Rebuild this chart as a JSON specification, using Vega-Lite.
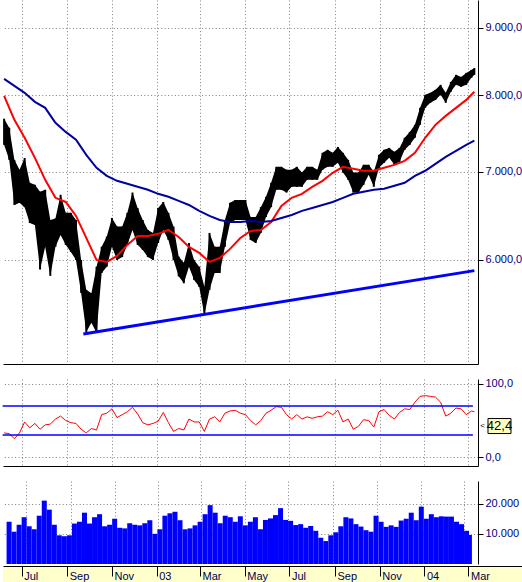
{
  "$schema": "https://vega.github.io/schema/vega-lite/v6.json",
  "padding": 0,
  "background": "white",
  "bounds": "flush",
  "spacing": 0,
  "config": {
    "view": {"stroke": null},
    "axis": {"domainColor": "#000000", "tickColor": "#000000", "labelColor": "#000080", "labelFont": "Liberation Sans", "labelFontSize": 11, "gridColor": "#808080", "gridDash": [1, 2.4], "gridOpacity": 1, "gridWidth": 1, "tickSize": 5, "labelPadding": 2, "domainWidth": 1, "tickWidth": 1}
  },
  "datasets": {
    "w": [
      {"d": "2002-06-07", "hi": 7680, "lo": 7337, "rsi": 33, "vol": 14000},
      {"d": "2002-06-14", "hi": 7560, "lo": 7147, "rsi": 32, "vol": 10700},
      {"d": "2002-06-21", "hi": 7147, "lo": 6605, "rsi": 25, "vol": 13000},
      {"d": "2002-06-28", "hi": 7024, "lo": 6630, "rsi": 33, "vol": 15500},
      {"d": "2002-07-05", "hi": 7170, "lo": 6580, "rsi": 48, "vol": 12500},
      {"d": "2002-07-12", "hi": 6866, "lo": 6400, "rsi": 40, "vol": 11500},
      {"d": "2002-07-19", "hi": 6842, "lo": 6379, "rsi": 46, "vol": 16000},
      {"d": "2002-07-26", "hi": 6760, "lo": 5900, "rsi": 38, "vol": 21000},
      {"d": "2002-08-02", "hi": 6783, "lo": 6140, "rsi": 44, "vol": 18000},
      {"d": "2002-08-09", "hi": 6434, "lo": 5835, "rsi": 45, "vol": 13000},
      {"d": "2002-08-16", "hi": 6450, "lo": 6140, "rsi": 52, "vol": 9500},
      {"d": "2002-08-23", "hi": 6724, "lo": 6268, "rsi": 56, "vol": 9200},
      {"d": "2002-08-30", "hi": 6515, "lo": 6160, "rsi": 50, "vol": 9500},
      {"d": "2002-09-06", "hi": 6515, "lo": 6085, "rsi": 47, "vol": 13400},
      {"d": "2002-09-13", "hi": 6434, "lo": 6000, "rsi": 46, "vol": 14000},
      {"d": "2002-09-20", "hi": 6000, "lo": 5664, "rsi": 38, "vol": 17000},
      {"d": "2002-09-27", "hi": 5694, "lo": 5290, "rsi": 33, "vol": 13400},
      {"d": "2002-10-04", "hi": 5660, "lo": 5375, "rsi": 39, "vol": 15500},
      {"d": "2002-10-11", "hi": 5930, "lo": 5282, "rsi": 37, "vol": 16500},
      {"d": "2002-10-18", "hi": 6140, "lo": 5865, "rsi": 58, "vol": 12500},
      {"d": "2002-10-25", "hi": 6250, "lo": 5930, "rsi": 60, "vol": 13000},
      {"d": "2002-11-01", "hi": 6457, "lo": 6140, "rsi": 66, "vol": 15000},
      {"d": "2002-11-08", "hi": 6360, "lo": 6000, "rsi": 54, "vol": 12000},
      {"d": "2002-11-15", "hi": 6360, "lo": 6030, "rsi": 58, "vol": 11800},
      {"d": "2002-11-22", "hi": 6515, "lo": 6160, "rsi": 62, "vol": 13500},
      {"d": "2002-11-29", "hi": 6750, "lo": 6323, "rsi": 68, "vol": 13000},
      {"d": "2002-12-06", "hi": 6570, "lo": 6160, "rsi": 59, "vol": 12800},
      {"d": "2002-12-13", "hi": 6434, "lo": 6106, "rsi": 47, "vol": 13500},
      {"d": "2002-12-20", "hi": 6323, "lo": 6030, "rsi": 44, "vol": 14500},
      {"d": "2002-12-27", "hi": 6290, "lo": 6000, "rsi": 46, "vol": 10000},
      {"d": "2003-01-03", "hi": 6570, "lo": 6180, "rsi": 49, "vol": 11500},
      {"d": "2003-01-10", "hi": 6640, "lo": 6323, "rsi": 61, "vol": 16000},
      {"d": "2003-01-17", "hi": 6515, "lo": 6214, "rsi": 47, "vol": 16800},
      {"d": "2003-01-24", "hi": 6360, "lo": 6000, "rsi": 35, "vol": 17300},
      {"d": "2003-01-31", "hi": 6035, "lo": 5830, "rsi": 39, "vol": 14500},
      {"d": "2003-02-07", "hi": 5970, "lo": 5760, "rsi": 37, "vol": 11500},
      {"d": "2003-02-14", "hi": 6180, "lo": 5930, "rsi": 52, "vol": 11800},
      {"d": "2003-02-21", "hi": 6000, "lo": 5794, "rsi": 48, "vol": 12800},
      {"d": "2003-02-28", "hi": 5930, "lo": 5724, "rsi": 48, "vol": 14000},
      {"d": "2003-03-07", "hi": 5724, "lo": 5450, "rsi": 35, "vol": 16500},
      {"d": "2003-03-14", "hi": 6290, "lo": 5694, "rsi": 52, "vol": 19500},
      {"d": "2003-03-21", "hi": 6140, "lo": 5865, "rsi": 55, "vol": 17000},
      {"d": "2003-03-28", "hi": 6140, "lo": 5865, "rsi": 48, "vol": 13500},
      {"d": "2003-04-04", "hi": 6434, "lo": 6140, "rsi": 60, "vol": 16000},
      {"d": "2003-04-11", "hi": 6630, "lo": 6400, "rsi": 63, "vol": 15500},
      {"d": "2003-04-18", "hi": 6663, "lo": 6434, "rsi": 64, "vol": 14000},
      {"d": "2003-04-25", "hi": 6663, "lo": 6434, "rsi": 60, "vol": 15800},
      {"d": "2003-05-02", "hi": 6663, "lo": 6434, "rsi": 58, "vol": 12800},
      {"d": "2003-05-09", "hi": 6468, "lo": 6214, "rsi": 50, "vol": 14000},
      {"d": "2003-05-16", "hi": 6468, "lo": 6180, "rsi": 44, "vol": 15500},
      {"d": "2003-05-23", "hi": 6580, "lo": 6290, "rsi": 50, "vol": 11500},
      {"d": "2003-05-30", "hi": 6700, "lo": 6468, "rsi": 60, "vol": 14600},
      {"d": "2003-06-06", "hi": 6866, "lo": 6580, "rsi": 64, "vol": 15100},
      {"d": "2003-06-13", "hi": 7060, "lo": 6783, "rsi": 69, "vol": 16200},
      {"d": "2003-06-20", "hi": 7060, "lo": 6783, "rsi": 68, "vol": 18500},
      {"d": "2003-06-27", "hi": 7024, "lo": 6750, "rsi": 58, "vol": 14600},
      {"d": "2003-07-04", "hi": 7024, "lo": 6818, "rsi": 52, "vol": 14300},
      {"d": "2003-07-11", "hi": 7060, "lo": 6818, "rsi": 58, "vol": 12900},
      {"d": "2003-07-18", "hi": 6990, "lo": 6818, "rsi": 52, "vol": 13200},
      {"d": "2003-07-25", "hi": 7060, "lo": 6902, "rsi": 55, "vol": 12000},
      {"d": "2003-08-01", "hi": 7060, "lo": 6902, "rsi": 53, "vol": 12600},
      {"d": "2003-08-08", "hi": 7024, "lo": 6902, "rsi": 55, "vol": 11000},
      {"d": "2003-08-15", "hi": 7235, "lo": 7024, "rsi": 56, "vol": 8700},
      {"d": "2003-08-22", "hi": 7273, "lo": 7060, "rsi": 62, "vol": 7600},
      {"d": "2003-08-29", "hi": 7235, "lo": 7060, "rsi": 58, "vol": 9500},
      {"d": "2003-09-05", "hi": 7310, "lo": 7110, "rsi": 64, "vol": 10500},
      {"d": "2003-09-12", "hi": 7235, "lo": 6990, "rsi": 48, "vol": 12500},
      {"d": "2003-09-19", "hi": 7147, "lo": 6902, "rsi": 52, "vol": 15500},
      {"d": "2003-09-26", "hi": 6990, "lo": 6750, "rsi": 38, "vol": 15100},
      {"d": "2003-10-03", "hi": 6990, "lo": 6750, "rsi": 42, "vol": 13200},
      {"d": "2003-10-10", "hi": 7085, "lo": 6842, "rsi": 51, "vol": 12400},
      {"d": "2003-10-17", "hi": 7085, "lo": 6963, "rsi": 50, "vol": 11200},
      {"d": "2003-10-24", "hi": 7000, "lo": 6818, "rsi": 41, "vol": 10700},
      {"d": "2003-10-31", "hi": 7210, "lo": 7048, "rsi": 62, "vol": 16000},
      {"d": "2003-11-07", "hi": 7273, "lo": 7110, "rsi": 65, "vol": 14000},
      {"d": "2003-11-14", "hi": 7298, "lo": 7172, "rsi": 57, "vol": 12300},
      {"d": "2003-11-21", "hi": 7248, "lo": 7085, "rsi": 52, "vol": 12800},
      {"d": "2003-11-28", "hi": 7298, "lo": 7122, "rsi": 61, "vol": 12300},
      {"d": "2003-12-05", "hi": 7428, "lo": 7273, "rsi": 66, "vol": 14400},
      {"d": "2003-12-12", "hi": 7505, "lo": 7337, "rsi": 65, "vol": 15000},
      {"d": "2003-12-19", "hi": 7598, "lo": 7428, "rsi": 75, "vol": 17000},
      {"d": "2003-12-26", "hi": 7827, "lo": 7598, "rsi": 83, "vol": 14500},
      {"d": "2004-01-02", "hi": 8007, "lo": 7827, "rsi": 84, "vol": 19000},
      {"d": "2004-01-09", "hi": 8035, "lo": 7896, "rsi": 83, "vol": 15000},
      {"d": "2004-01-16", "hi": 8077, "lo": 7937, "rsi": 82, "vol": 16500},
      {"d": "2004-01-23", "hi": 8148, "lo": 8007, "rsi": 75, "vol": 15500},
      {"d": "2004-01-30", "hi": 8035, "lo": 7896, "rsi": 56, "vol": 15800},
      {"d": "2004-02-06", "hi": 8190, "lo": 8050, "rsi": 60, "vol": 15700},
      {"d": "2004-02-13", "hi": 8292, "lo": 8148, "rsi": 67, "vol": 15700},
      {"d": "2004-02-20", "hi": 8262, "lo": 8120, "rsi": 66, "vol": 14000},
      {"d": "2004-02-27", "hi": 8320, "lo": 8148, "rsi": 58, "vol": 13200},
      {"d": "2004-03-05", "hi": 8364, "lo": 8250, "rsi": 63, "vol": 11000},
      {"d": "2004-03-09", "hi": 8390, "lo": 8292, "rsi": 62, "vol": 9600}
    ],
    "ma": [
      {"d": "2002-06-07", "red": 7993, "blue": 8234},
      {"d": "2002-06-21", "red": 7665, "blue": 8134},
      {"d": "2002-07-05", "red": 7428, "blue": 8035},
      {"d": "2002-07-19", "red": 7172, "blue": 7910},
      {"d": "2002-08-02", "red": 6902, "blue": 7827},
      {"d": "2002-08-16", "red": 6688, "blue": 7625},
      {"d": "2002-08-30", "red": 6640, "blue": 7505},
      {"d": "2002-09-13", "red": 6480, "blue": 7402},
      {"d": "2002-09-27", "red": 6236, "blue": 7210},
      {"d": "2002-10-11", "red": 6000, "blue": 7048},
      {"d": "2002-10-25", "red": 5979, "blue": 6950},
      {"d": "2002-11-08", "red": 6042, "blue": 6890},
      {"d": "2002-11-22", "red": 6160, "blue": 6854},
      {"d": "2002-12-06", "red": 6257, "blue": 6818},
      {"d": "2002-12-20", "red": 6257, "blue": 6783},
      {"d": "2003-01-03", "red": 6280, "blue": 6735},
      {"d": "2003-01-17", "red": 6323, "blue": 6700},
      {"d": "2003-01-31", "red": 6246, "blue": 6653},
      {"d": "2003-02-14", "red": 6138, "blue": 6605},
      {"d": "2003-02-28", "red": 6074, "blue": 6537},
      {"d": "2003-03-14", "red": 5979, "blue": 6480},
      {"d": "2003-03-28", "red": 6021, "blue": 6434},
      {"d": "2003-04-11", "red": 6117, "blue": 6411},
      {"d": "2003-04-25", "red": 6235, "blue": 6411},
      {"d": "2003-05-09", "red": 6312, "blue": 6422},
      {"d": "2003-05-23", "red": 6323, "blue": 6411},
      {"d": "2003-06-06", "red": 6411, "blue": 6422},
      {"d": "2003-06-20", "red": 6594, "blue": 6457},
      {"d": "2003-07-04", "red": 6688, "blue": 6491},
      {"d": "2003-07-18", "red": 6735, "blue": 6537},
      {"d": "2003-08-01", "red": 6818, "blue": 6570},
      {"d": "2003-08-15", "red": 6890, "blue": 6605},
      {"d": "2003-08-29", "red": 6987, "blue": 6640},
      {"d": "2003-09-12", "red": 7060, "blue": 6688},
      {"d": "2003-09-26", "red": 7036, "blue": 6735},
      {"d": "2003-10-10", "red": 7012, "blue": 6759},
      {"d": "2003-10-24", "red": 7012, "blue": 6783},
      {"d": "2003-11-07", "red": 7048, "blue": 6795},
      {"d": "2003-11-21", "red": 7085, "blue": 6830},
      {"d": "2003-12-05", "red": 7135, "blue": 6866},
      {"d": "2003-12-19", "red": 7235, "blue": 6950},
      {"d": "2004-01-02", "red": 7428, "blue": 7012},
      {"d": "2004-01-16", "red": 7598, "blue": 7097},
      {"d": "2004-01-30", "red": 7718, "blue": 7185},
      {"d": "2004-02-13", "red": 7827, "blue": 7260},
      {"d": "2004-02-27", "red": 7937, "blue": 7337},
      {"d": "2004-03-09", "red": 8050, "blue": 7390}
    ],
    "tl": [
      {"d": "2002-09-23", "v": 5272},
      {"d": "2004-03-09", "v": 5889}
    ],
    "lv": [{"lvl": 70, "d0": "2002-06-05", "d1": "2004-03-07"}, {"lvl": 30, "d0": "2002-06-05", "d1": "2004-03-07"}],
    "lab": [{"v": 42.4, "t": "42,4"}]
  },
  "vconcat": [
    {
      "width": 475,
      "height": 364,
      "encoding": {
        "x": {"field": "d", "type": "temporal", "title": null,
          "scale": {"type": "utc", "nice": false, "domain": [{"year": 2002, "month": 6, "date": 5, "hours": 12, "utc": true}, {"year": 2004, "month": 3, "date": 14, "utc": true}]},
          "axis": {"title": null, "labels": false, "ticks": false, "domain": true, "grid": true,
            "values": [{"year": 2002, "month": 7, "date": 1, "utc": true}, {"year": 2002, "month": 9, "date": 1, "utc": true}, {"year": 2002, "month": 11, "date": 1, "utc": true}, {"year": 2003, "month": 1, "date": 1, "utc": true}, {"year": 2003, "month": 3, "date": 1, "utc": true}, {"year": 2003, "month": 5, "date": 1, "utc": true}, {"year": 2003, "month": 7, "date": 1, "utc": true}, {"year": 2003, "month": 9, "date": 1, "utc": true}, {"year": 2003, "month": 11, "date": 1, "utc": true}, {"year": 2004, "month": 1, "date": 1, "utc": true}, {"year": 2004, "month": 3, "date": 1, "utc": true}]}}
      },
      "layer": [
        {"data": {"name": "w"}, "mark": {"type": "area", "color": "#000000"},
          "encoding": {
            "y": {"field": "lo", "type": "quantitative", "title": null, "scale": {"type": "log", "domain": [5002, 9451], "nice": false},
              "axis": {"title": null, "orient": "right", "values": [6000, 7000, 8000, 9000], "labelExpr": "datum.value/1000 + '.000,0'", "grid": true}},
            "y2": {"field": "hi"}}},
        {"data": {"name": "w"}, "mark": {"type": "rule", "color": "#000000", "strokeWidth": 2},
          "encoding": {"y": {"field": "lo", "type": "quantitative", "title": null}, "y2": {"field": "hi"}}},
        {"data": {"name": "ma"}, "mark": {"type": "line", "color": "#FF0000", "strokeWidth": 2},
          "encoding": {"y": {"field": "red", "type": "quantitative", "title": null}}},
        {"data": {"name": "ma"}, "mark": {"type": "line", "color": "#0000A0", "strokeWidth": 2},
          "encoding": {"y": {"field": "blue", "type": "quantitative", "title": null}}},
        {"data": {"name": "tl"}, "mark": {"type": "line", "color": "#0000FF", "strokeWidth": 3},
          "encoding": {"y": {"field": "v", "type": "quantitative", "title": null}}}
      ]
    },
    {"width": 475, "height": 15, "data": {"values": [{}]}, "mark": {"type": "text", "text": ""}},
    {
      "width": 475,
      "height": 87,
      "layer": [
        {"data": {"name": "w"}, "mark": {"type": "line", "color": "#FF0000", "strokeWidth": 1},
          "encoding": {
            "x": {"field": "d", "type": "temporal", "title": null,
              "scale": {"type": "utc", "nice": false, "domain": [{"year": 2002, "month": 6, "date": 5, "hours": 12, "utc": true}, {"year": 2004, "month": 3, "date": 14, "utc": true}]},
              "axis": {"title": null, "labels": false, "ticks": false, "domain": true, "grid": true,
                "values": [{"year": 2002, "month": 7, "date": 1, "utc": true}, {"year": 2002, "month": 9, "date": 1, "utc": true}, {"year": 2002, "month": 11, "date": 1, "utc": true}, {"year": 2003, "month": 1, "date": 1, "utc": true}, {"year": 2003, "month": 3, "date": 1, "utc": true}, {"year": 2003, "month": 5, "date": 1, "utc": true}, {"year": 2003, "month": 7, "date": 1, "utc": true}, {"year": 2003, "month": 9, "date": 1, "utc": true}, {"year": 2003, "month": 11, "date": 1, "utc": true}, {"year": 2004, "month": 1, "date": 1, "utc": true}, {"year": 2004, "month": 3, "date": 1, "utc": true}]}},
            "y": {"field": "rsi", "type": "quantitative", "title": null, "scale": {"domain": [-12.3, 106.8], "nice": false, "zero": false},
              "axis": {"title": null, "orient": "right", "values": [0, 100], "labelExpr": "datum.value + ',0'", "grid": true}}}},
        {"data": {"name": "lv"}, "mark": {"type": "rule", "color": "#0000FF", "strokeWidth": 1.5},
          "encoding": {
            "y": {"field": "lvl", "type": "quantitative", "title": null},
            "x": {"field": "d0", "type": "temporal", "title": null},
            "x2": {"field": "d1"}}},
        {"data": {"name": "lab"}, "mark": {"type": "point", "shape": "M-1,-0.652H1V0.652H-1Z", "size": 529, "filled": true, "fill": "#FFFFC0", "stroke": "#000000", "strokeWidth": 1, "opacity": 1, "fillOpacity": 1},
          "encoding": {"x": {"datum": {"year": 2004, "month": 4, "date": 12, "hours": 7, "utc": true}, "type": "temporal"}, "y": {"field": "v", "type": "quantitative", "title": null}}},
        {"data": {"name": "lab"}, "mark": {"type": "text", "font": "Liberation Sans", "fontSize": 13, "color": "#000000"},
          "encoding": {"x": {"datum": {"year": 2004, "month": 4, "date": 12, "hours": 7, "utc": true}, "type": "temporal"}, "y": {"field": "v", "type": "quantitative", "title": null}, "text": {"field": "t"}}},
        {"data": {"name": "lab"}, "mark": {"type": "text", "text": "<", "font": "Liberation Sans", "fontSize": 8, "color": "#000000"},
          "encoding": {"x": {"datum": {"year": 2004, "month": 3, "date": 20, "hours": 3, "utc": true}, "type": "temporal"}, "y": {"field": "v", "type": "quantitative", "title": null}}}
      ]
    },
    {"width": 475, "height": 15, "data": {"values": [{}]}, "mark": {"type": "text", "text": ""}},
    {
      "width": 475,
      "height": 83,
      "data": {"name": "w"},
      "mark": {"type": "bar", "color": "#0000FF", "size": 5, "clip": true},
      "encoding": {
        "x": {"field": "d", "type": "temporal", "title": null,
          "scale": {"type": "utc", "nice": false, "domain": [{"year": 2002, "month": 6, "date": 5, "hours": 12, "utc": true}, {"year": 2004, "month": 3, "date": 14, "utc": true}]},
          "axis": {"title": null, "labels": false, "ticks": false, "domain": false, "grid": true,
            "values": [{"year": 2002, "month": 7, "date": 1, "utc": true}, {"year": 2002, "month": 9, "date": 1, "utc": true}, {"year": 2002, "month": 11, "date": 1, "utc": true}, {"year": 2003, "month": 1, "date": 1, "utc": true}, {"year": 2003, "month": 3, "date": 1, "utc": true}, {"year": 2003, "month": 5, "date": 1, "utc": true}, {"year": 2003, "month": 7, "date": 1, "utc": true}, {"year": 2003, "month": 9, "date": 1, "utc": true}, {"year": 2003, "month": 11, "date": 1, "utc": true}, {"year": 2004, "month": 1, "date": 1, "utc": true}, {"year": 2004, "month": 3, "date": 1, "utc": true}]}},
        "y": {"field": "vol", "type": "quantitative", "title": null, "scale": {"domain": [0, 27500], "nice": false},
          "axis": {"title": null, "orient": "right", "values": [10000, 20000], "labelExpr": "datum.value/1000 + '.000'", "grid": true}}
      }
    },
    {"width": 475, "height": 2, "data": {"values": [{}]}, "mark": {"type": "text", "text": ""}},
    {
      "width": 522,
      "height": 16,
      "view": {"fill": "#FFFFCC", "stroke": null},
      "data": {"values": [{"d": "2003-01-01"}]},
      "mark": {"type": "text", "text": "", "opacity": 0},
      "encoding": {
        "x": {"field": "d", "type": "temporal", "title": null,
          "scale": {"type": "utc", "nice": false, "domain": [{"year": 2002, "month": 6, "date": 5, "hours": 12, "utc": true}, {"year": 2004, "month": 5, "date": 17, "hours": 1, "minutes": 41, "utc": true}]},
          "axis": {"title": null, "orient": "bottom", "offset": -16, "tickSize": 10, "grid": false, "domain": true,
            "labelAlign": "left", "labelBaseline": "top", "labelPadding": -6, "labelOffset": 2, "labelColor": "#000050", "labelFontSize": 11, "labelFlush": false, "labelOverlap": false,
            "labelExpr": "utcmonth(datum.value) == 0 ? utcFormat(datum.value, '%y') : utcFormat(datum.value, '%b')",
            "values": [{"year": 2002, "month": 7, "date": 1, "utc": true}, {"year": 2002, "month": 9, "date": 1, "utc": true}, {"year": 2002, "month": 11, "date": 1, "utc": true}, {"year": 2003, "month": 1, "date": 1, "utc": true}, {"year": 2003, "month": 3, "date": 1, "utc": true}, {"year": 2003, "month": 5, "date": 1, "utc": true}, {"year": 2003, "month": 7, "date": 1, "utc": true}, {"year": 2003, "month": 9, "date": 1, "utc": true}, {"year": 2003, "month": 11, "date": 1, "utc": true}, {"year": 2004, "month": 1, "date": 1, "utc": true}, {"year": 2004, "month": 3, "date": 1, "utc": true}]}}
      }
    }
  ]
}
